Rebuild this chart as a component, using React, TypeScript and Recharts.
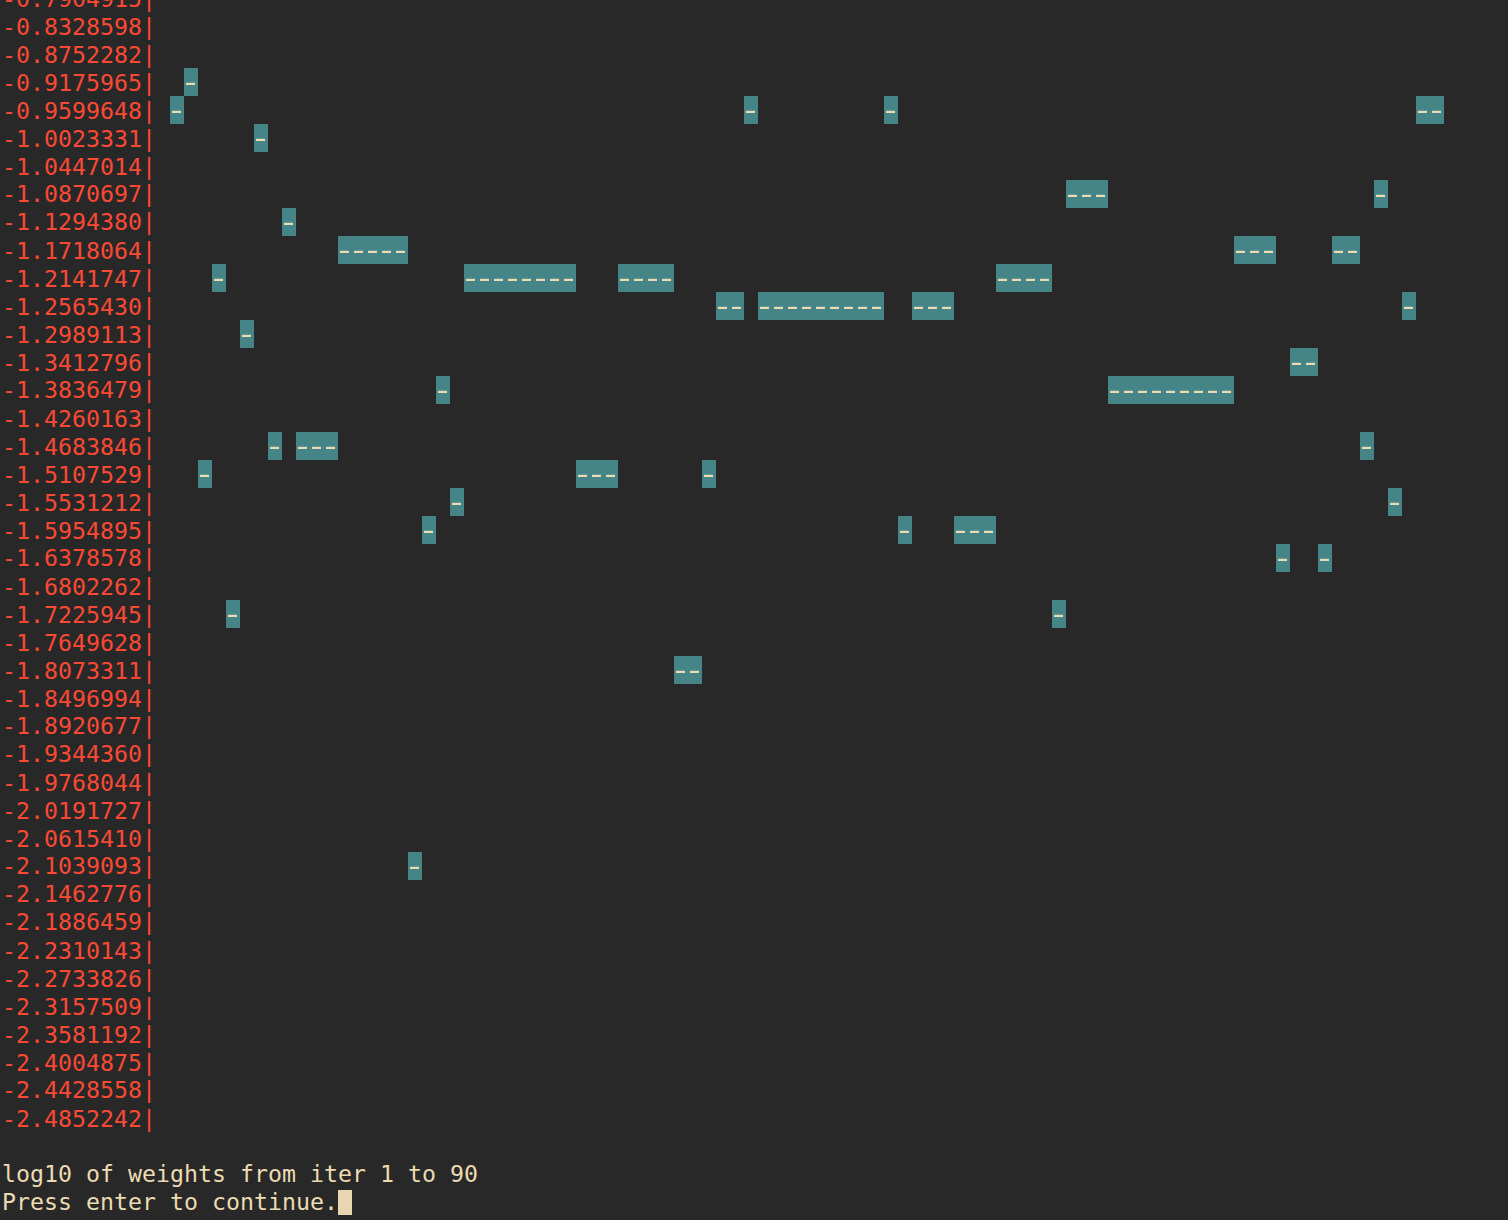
import React from "react";
import { ScatterChart, Scatter, XAxis, YAxis } from "recharts";

// Row labels of the terminal plot (top to bottom)
const tickLabels: string[] = [
  "-0.7904915", "-0.8328598", "-0.8752282", "-0.9175965", "-0.9599648",
  "-1.0023331", "-1.0447014", "-1.0870697", "-1.1294380", "-1.1718064",
  "-1.2141747", "-1.2565430", "-1.2989113", "-1.3412796", "-1.3836479",
  "-1.4260163", "-1.4683846", "-1.5107529", "-1.5531212", "-1.5954895",
  "-1.6378578", "-1.6802262", "-1.7225945", "-1.7649628", "-1.8073311",
  "-1.8496994", "-1.8920677", "-1.9344360", "-1.9768044", "-2.0191727",
  "-2.0615410", "-2.1039093", "-2.1462776", "-2.1886459", "-2.2310143",
  "-2.2733826", "-2.3157509", "-2.3581192", "-2.4004875", "-2.4428558",
  "-2.4852242",
];
const tickValues: number[] = tickLabels.map((s) => parseFloat(s));

// log10 of weights per iteration (91 columns)
const weights: number[] = [
  -0.9599648, -0.9175965, -1.5107529, -1.2141747, -1.7225945, -1.2989113,
  -1.0023331, -1.4683846, -1.129438, -1.4683846, -1.4683846, -1.4683846,
  -1.1718064, -1.1718064, -1.1718064, -1.1718064, -1.1718064,
  -2.1039093, -1.5954895, -1.3836479, -1.5531212,
  -1.2141747, -1.2141747, -1.2141747, -1.2141747, -1.2141747, -1.2141747, -1.2141747, -1.2141747,
  -1.5107529, -1.5107529, -1.5107529,
  -1.2141747, -1.2141747, -1.2141747, -1.2141747,
  -1.8073311, -1.8073311,
  -1.5107529,
  -1.256543, -1.256543,
  -0.9599648,
  -1.256543, -1.256543, -1.256543, -1.256543, -1.256543, -1.256543, -1.256543, -1.256543, -1.256543,
  -0.9599648,
  -1.5954895,
  -1.256543, -1.256543, -1.256543,
  -1.5954895, -1.5954895, -1.5954895,
  -1.2141747, -1.2141747, -1.2141747, -1.2141747,
  -1.7225945,
  -1.0870697, -1.0870697, -1.0870697,
  -1.3836479, -1.3836479, -1.3836479, -1.3836479, -1.3836479, -1.3836479, -1.3836479, -1.3836479, -1.3836479,
  -1.1718064, -1.1718064, -1.1718064,
  -1.6378578,
  -1.3412796, -1.3412796,
  -1.6378578,
  -1.1718064, -1.1718064,
  -1.4683846, -1.0870697, -1.5531212, -1.256543,
  -0.9599648, -0.9599648,
];

const titleLine = "log10 of weights from iter 1 to 90";
const promptLine = "Press enter to continue.";

const data = weights.map((w, i) => ({ i, w }));

const BG = "#282828";
const RED = "#fb4934";
const TEAL = "#458588";
const FG = "#ebdbb2";
const FONT = "'DejaVu Sans Mono', 'Liberation Mono', monospace";
const FS = 23.25;
const ROW = 28;
const STEP = 0.04236835;
const yTop = tickValues[0] + STEP / 2;
const yBottom = tickValues[tickValues.length - 1] - STEP / 2;

const Cell = (props: any) => {
  const { cx, cy } = props;
  if (cx == null || cy == null) return null;
  return (
    <g>
      <rect x={cx - 7} y={cy - 14} width={14} height={28} fill={TEAL} />
      <rect x={cx - 5} y={cy + 0.8} width={9} height={2.2} fill={FG} />
    </g>
  );
};

const YTick = (props: any) => {
  const { y, payload } = props;
  let idx = 0;
  let best = Infinity;
  tickValues.forEach((v, k) => {
    const d = Math.abs(v - payload.value);
    if (d < best) {
      best = d;
      idx = k;
    }
  });
  return (
    <text x={2} y={y + 8.5} fill={RED} fontFamily={FONT} fontSize={FS} textAnchor="start">
      {tickLabels[idx] + "|"}
    </text>
  );
};

export default function App() {
  return (
    <div style={{ position: "absolute", left: 0, top: -42, width: 1508, height: 1262, background: BG, overflow: "hidden" }}>
      <ScatterChart width={1508} height={1262} margin={{ top: 26, right: 64, bottom: 88, left: 0 }}>
        <XAxis type="number" dataKey="i" domain={[-0.5, 90.5]} hide allowDataOverflow />
        <YAxis
          type="number"
          dataKey="w"
          domain={[yBottom, yTop]}
          ticks={tickValues}
          interval={0}
          width={170}
          axisLine={false}
          tickLine={false}
          tick={<YTick />}
          allowDataOverflow
        />
        <Scatter data={data} shape={<Cell />} isAnimationActive={false} />
      </ScatterChart>
      <div
        style={{
          position: "absolute",
          left: 2,
          top: 42 + 1160,
          fontFamily: FONT,
          fontSize: FS,
          lineHeight: ROW + "px",
          color: FG,
          whiteSpace: "pre",
        }}
      >
        <div>{titleLine}</div>
        <div>
          {promptLine}
          <span style={{ display: "inline-block", width: 14, height: 25, background: "#e8d6b0", verticalAlign: "-5px" }} />
        </div>
      </div>
    </div>
  );
}
